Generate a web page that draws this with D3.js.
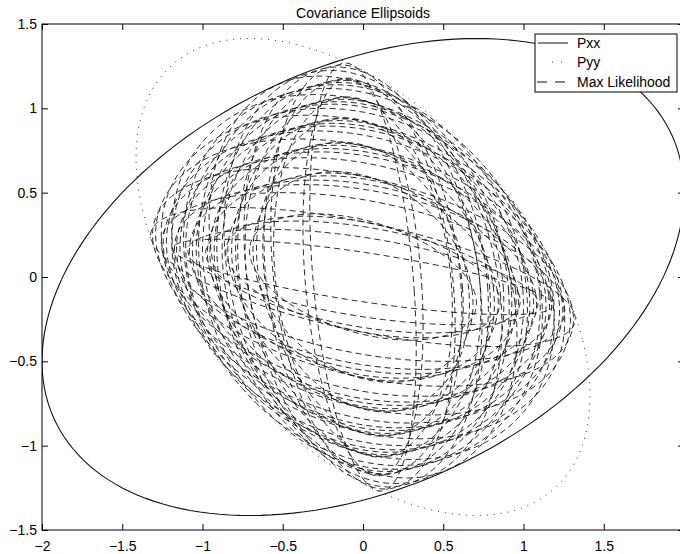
<!DOCTYPE html>
<html><head><meta charset="utf-8">
<script src="https://cdn.jsdelivr.net/npm/d3@7"></script>
<style>body{margin:0;background:#fff}svg text{font-family:"Liberation Sans",Arial,sans-serif}</style></head><body>
<svg id="c" width="680" height="554"></svg>
<script>
// Covariances [var x, cov xy, var y]
const pxx = [4, 1, 2];
const pyy = [2, -1, 2];
// Max Likelihood fused covariances (one dashed ellipse each)
const mlVarX = [0.50,0.47,0.44,0.39,0.31,0.14, 0.73,0.71,0.67,0.63,0.54,0.38,
  0.96,0.94,0.91,0.86,0.77,0.61,0.11, 1.19,1.17,1.13,1.08,1.00,0.83,0.33,
  1.41,1.38,1.35,1.30,1.22,1.05,0.55, 1.58,1.55,1.50,1.42,1.25,0.75,
  1.75,1.72,1.67,1.58,1.42,0.92];
const mlCovXY = [-0.11,-0.11,-0.11,-0.11,-0.11,-0.11, -0.13,-0.13,-0.13,-0.13,-0.13,-0.13,
  -0.14,-0.14,-0.14,-0.14,-0.14,-0.14,-0.14, -0.17,-0.17,-0.17,-0.17,-0.17,-0.17,-0.17,
  -0.20,-0.20,-0.20,-0.20,-0.20,-0.20,-0.20, -0.25,-0.25,-0.25,-0.25,-0.25,-0.25,
  -0.33,-0.33,-0.33,-0.33,-0.33,-0.33];
const mlVarY = [0.14,0.39,0.64,0.89,1.14,1.39, 0.13,0.38,0.63,0.88,1.13,1.38,
  0.11,0.36,0.61,0.86,1.11,1.36,1.61, 0.08,0.33,0.58,0.83,1.08,1.33,1.58,
  0.05,0.30,0.55,0.80,1.05,1.30,1.55, 0.25,0.50,0.75,1.00,1.25,1.50,
  0.17,0.42,0.67,0.92,1.17,1.42];
const xTicks = [-2,-1.5,-1,-0.5,0,0.5,1,1.5];
const yTicks = [-1.5,-1,-0.5,0,0.5,1,1.5];
const legendLabels = ["Pxx","Pyy","Max Likelihood"];

const svg = d3.select('#c');
const L = 42, R = 684, T = 24, B = 530;
const x = d3.scaleLinear([-2,2],[L,R]);
const y = d3.scaleLinear([-1.5,1.5],[B,T]);

// ellipse outline of covariance [a,b,c] (unit Mahalanobis contour)
function ellipse(cv){
  const a=cv[0], b=cv[1], c=cv[2];
  const d=Math.sqrt(Math.max(0,a*c-b*b)), t=Math.sqrt(a+c+2*d);
  const s11=(a+d)/t, s12=b/t, s22=(c+d)/t;
  return d3.range(0,361,2).map(k=>{const th=k*Math.PI/180,u=Math.cos(th),v=Math.sin(th);return [s11*u+s12*v, s12*u+s22*v];});
}
const line = d3.line().x(d=>x(d[0])).y(d=>y(d[1]));

svg.append('clipPath').attr('id','clip').append('rect').attr('x',L).attr('y',T).attr('width',R-L).attr('height',B-T);
const plot = svg.append('g').attr('clip-path','url(#clip)');

mlVarX.forEach((v,i)=>{
  plot.append('path').attr('d',line(ellipse([v,mlCovXY[i],mlVarY[i]])))
    .attr('fill','none').attr('stroke','#111').attr('stroke-width',0.9).attr('stroke-dasharray','6,4');
});
plot.append('path').attr('d',line(ellipse(pyy))).attr('fill','none').attr('stroke','#333').attr('stroke-width',1).attr('stroke-dasharray','1,6');
plot.append('path').attr('d',line(ellipse(pxx))).attr('fill','none').attr('stroke','#111').attr('stroke-width',1.1);

// axes box with inward ticks
const ax = svg.append('g');
ax.append('rect').attr('x',L).attr('y',T).attr('width',R-L).attr('height',B-T).attr('fill','none').attr('stroke','#000').attr('stroke-width',1);
const fmt = d=>d<0?'\u2212'+Math.abs(d):String(d);
const gB = ax.append('g').attr('transform',`translate(0,${B})`).call(d3.axisBottom(x).tickValues(xTicks).tickSizeInner(-6).tickSizeOuter(0).tickPadding(8).tickFormat(fmt));
const gT = ax.append('g').attr('transform',`translate(0,${T})`).call(d3.axisTop(x).tickValues(xTicks).tickSizeInner(-6).tickSizeOuter(0).tickFormat(''));
const gL = ax.append('g').attr('transform',`translate(${L},0)`).call(d3.axisLeft(y).tickValues(yTicks).tickSizeInner(-6).tickSizeOuter(0).tickPadding(5).tickFormat(fmt));
const gR = ax.append('g').attr('transform',`translate(${R},0)`).call(d3.axisRight(y).tickValues(yTicks).tickSizeInner(-6).tickSizeOuter(0).tickFormat(''));
[gB,gT,gL,gR].forEach(g=>{g.select('.domain').remove();g.selectAll('line').attr('stroke','#000');g.selectAll('text').attr('font-size',14).attr('fill','#000').attr('font-family','"Liberation Sans",Arial,sans-serif');});
gB.selectAll('text').attr('dy','0.9em');

// title
svg.append('text').attr('x',(L+R)/2).attr('y',18).attr('text-anchor','middle').attr('font-size',14).text('Covariance Ellipsoids');

// legend
const lg = svg.append('g');
lg.append('rect').attr('x',535).attr('y',34).attr('width',142).attr('height',58).attr('fill','#fff').attr('stroke','#000').attr('stroke-width',1);
const ly = [43,62,82];
lg.append('line').attr('x1',538).attr('x2',568).attr('y1',ly[0]).attr('y2',ly[0]).attr('stroke','#111');
lg.append('line').attr('x1',552).attr('x2',568).attr('y1',ly[1]).attr('y2',ly[1]).attr('stroke','#333').attr('stroke-dasharray','1,8');
lg.append('line').attr('x1',537).attr('x2',567).attr('y1',ly[2]).attr('y2',ly[2]).attr('stroke','#111').attr('stroke-dasharray','10,8');
legendLabels.forEach((t,i)=>lg.append('text').attr('x',577).attr('y',ly[i]).attr('dy','0.36em').attr('font-size',14).text(t));
</script></body></html>
